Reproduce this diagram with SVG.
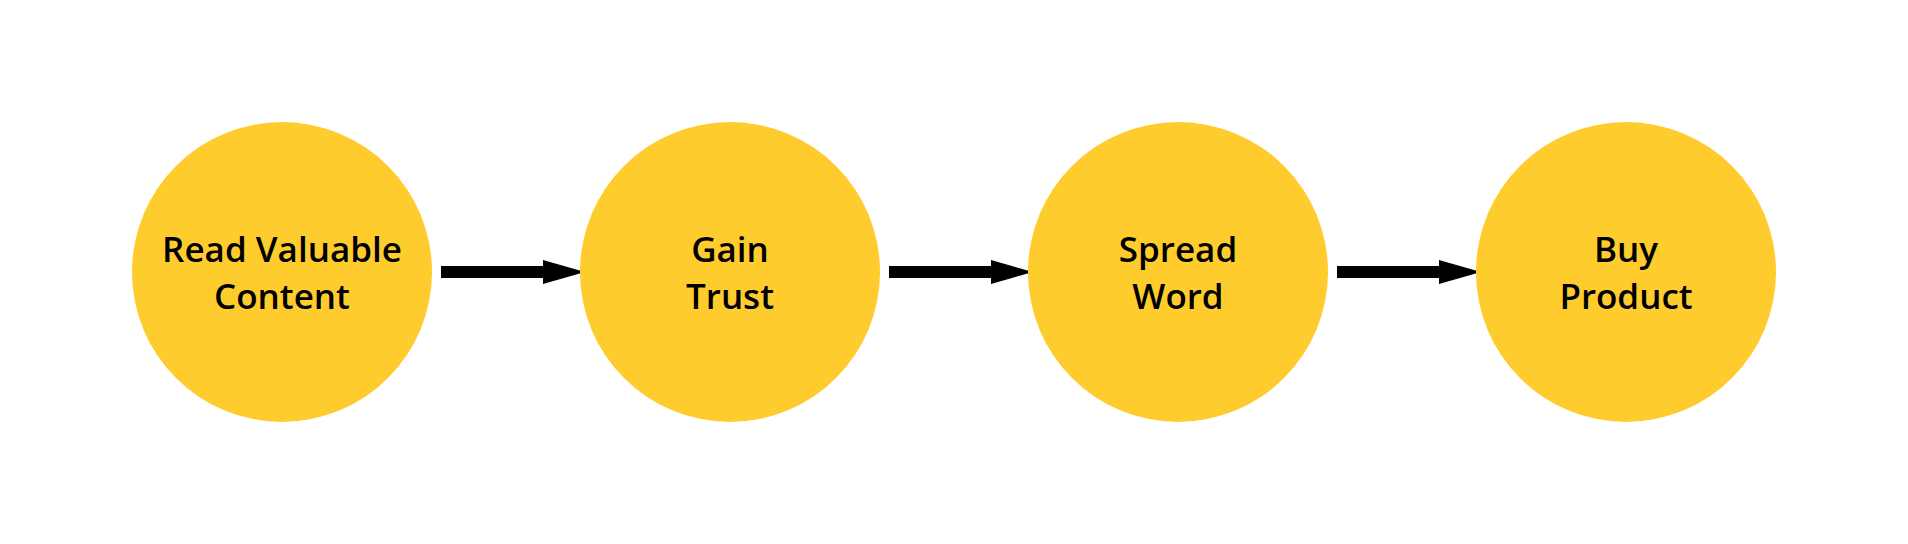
<svg xmlns="http://www.w3.org/2000/svg" width="1908" height="544" viewBox="0 0 1908 544">
<style>
.node{fill:#FFCC2E}
.lbl{font-family:"Open Sans","Noto Sans",sans-serif;font-weight:600;font-size:35px;fill:#000;text-anchor:middle}
.edge{stroke:#000;stroke-width:12;fill:none}
.head{fill:#000}
</style>
<rect width="1908" height="544" fill="#fff"/>
<g id="connectors">
<g id="e1"><path class="edge" d="M441 272H545"/><path class="head" d="M543 260L585 272L543 284Z"/></g>
<g id="e2"><path class="edge" d="M889 272H993"/><path class="head" d="M991 260L1033 272L991 284Z"/></g>
<g id="e3"><path class="edge" d="M1337 272H1441"/><path class="head" d="M1439 260L1481 272L1439 284Z"/></g>
</g>
<g id="n1"><circle class="node" cx="282" cy="272" r="150"/><text class="lbl" x="282" y="262">Read Valuable</text><text class="lbl" x="282" y="308.5">Content</text></g>
<g id="n2"><circle class="node" cx="730" cy="272" r="150"/><text class="lbl" x="730" y="262">Gain</text><text class="lbl" x="730" y="308.5">Trust</text></g>
<g id="n3"><circle class="node" cx="1178" cy="272" r="150"/><text class="lbl" x="1178" y="262">Spread</text><text class="lbl" x="1178" y="308.5">Word</text></g>
<g id="n4"><circle class="node" cx="1626" cy="272" r="150"/><text class="lbl" x="1626" y="262">Buy</text><text class="lbl" x="1626" y="308.5">Product</text></g>
</svg>
